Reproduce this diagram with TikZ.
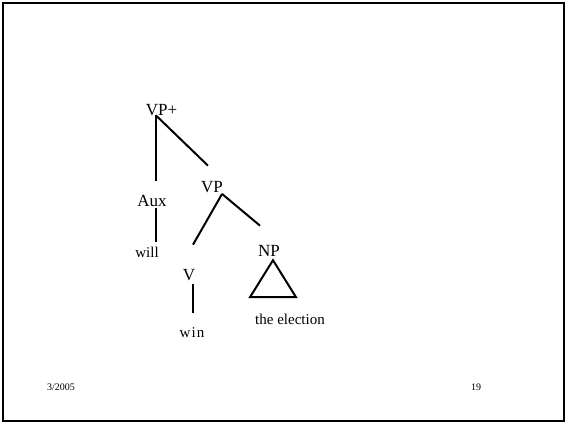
\documentclass[tikz,border=0pt]{standalone}
\usepackage{fontspec}
\setmainfont{Liberation Serif}
\usetikzlibrary{positioning,calc}

\begin{document}
\begin{tikzpicture}[
  x=1pt, y=-1pt,
  cat/.style={inner sep=0pt, anchor=base, font=\fontsize{17}{17}\selectfont},
  word/.style={inner sep=0pt, anchor=base, font=\fontsize{15}{15}\selectfont},
  foot/.style={inner sep=0pt, anchor=base, font=\fontsize{10}{10}\selectfont},
  branch/.style={line width=2pt}
]
\useasboundingbox (0,0) rectangle (565,422);
% SLIDE FRAME
\draw[line width=2pt] (3,3) rectangle (563.5,420.5);

% CATEGORIES
\node[cat] (vpp) at (161.5,116) {VP+};
\node[cat] (aux) at (152,207) {Aux};
\node[cat] (vp)  at (212,193) {VP};
\node[cat] (v)   at (189,280) {V};
\node[cat] (np)  at (269,257) {NP};

% WORDS
\node[word] (will) at (147,258) {will};
\node[word] (win)  at (192,337) {w\kern1.2pt i\kern1.2pt n};
\node[word] (elec) at (290,324) {the election};

% BRANCHES
\draw[branch] ([xshift=-5.5pt,yshift=1pt]vpp.south) -- ([xshift=4pt,yshift=14.5pt]aux.north);
\draw[branch] ([xshift=-5.5pt,yshift=1pt]vpp.south) -- ([xshift=-4pt,yshift=16pt]vp.north);
\draw[branch] ([xshift=-1pt,yshift=-0.5pt]vp.south east) -- ([xshift=4pt,yshift=24pt]v.north);
\draw[branch] ([xshift=-1pt,yshift=-0.5pt]vp.south east) -- ([xshift=-9pt,yshift=20pt]np.north);
\draw[branch] ([xshift=4pt,yshift=-1pt]aux.south) -- ([xshift=9pt,yshift=5pt]will.north);
\draw[branch] ([xshift=4pt,yshift=-4pt]v.south) -- ([xshift=1pt,yshift=14pt]win.north);
\draw[branch] ([xshift=4pt,yshift=-3pt]np.south) -- ++(-23,37) -- ++(46,0) -- cycle;

% FOOTER
\node[foot] (date) at (61,390) {3/2005};
\node[foot] (page) at (476,390) {19};
\end{tikzpicture}
\end{document}
